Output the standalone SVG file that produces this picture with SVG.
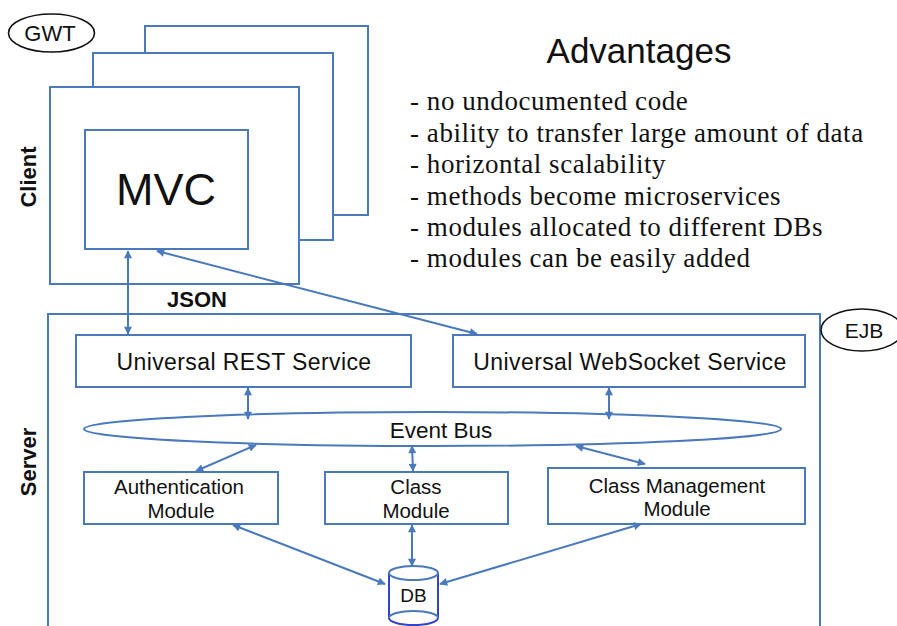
<svg xmlns="http://www.w3.org/2000/svg" width="897" height="626" viewBox="0 0 897 626">
<style>
.box{fill:#fff;stroke:#4a79bd;stroke-width:2}
.line{fill:none;stroke:#4a79bd;stroke-width:2}
.sans{font-family:"Liberation Sans",Arial,sans-serif;fill:#111}
.serif{font-family:"Liberation Serif","Times New Roman",serif;fill:#111;font-size:27px;letter-spacing:0.55px}
.bold{font-weight:bold}
.oval{fill:#fff;stroke:#111;stroke-width:1.6}
.sp{letter-spacing:0.4px}
</style>
<defs>
<marker id="ah" viewBox="0 0 10 10" refX="9" refY="5" markerWidth="9" markerHeight="8" markerUnits="userSpaceOnUse" orient="auto-start-reverse">
<path d="M0,0 L10,5 L0,10 Z" fill="#4a79bd"/>
</marker>
</defs>
<rect width="897" height="626" fill="#fff"/>

<g id="gwt">
<ellipse class="oval" cx="51.5" cy="33" rx="43" ry="19"/>
<text class="sans" x="50" y="40.5" font-size="22" text-anchor="middle">GWT</text>
</g>

<g id="client">
<rect class="box" x="145" y="26" width="223" height="189"/>
<rect class="box" x="93" y="53" width="240" height="187"/>
<rect class="box" x="50" y="87" width="249" height="197"/>
<text class="sans bold" font-size="22" text-anchor="middle" transform="translate(36,177) rotate(-90)">Client</text>
</g>

<g id="mvc">
<rect class="box" x="85" y="130" width="163" height="119"/>
<text class="sans" x="166" y="205" font-size="45" text-anchor="middle">MVC</text>
</g>

<g id="json">
<text class="sans bold" x="197" y="307" font-size="22" text-anchor="middle">JSON</text>
</g>

<g id="advantages">
<text class="sans" x="639" y="63" font-size="35" text-anchor="middle">Advantages</text>
<text class="serif" x="410" y="110">- no undocumented code</text>
<text class="serif" x="410" y="141.5">- ability to transfer large amount of data</text>
<text class="serif" x="410" y="173">- horizontal scalability</text>
<text class="serif" x="410" y="204.5">- methods become microservices</text>
<text class="serif" x="410" y="236">- modules allocated to different DBs</text>
<text class="serif" x="410" y="267">- modules can be easily added</text>
</g>

<g id="server">
<path class="line" d="M48,630 V314 H820 V630"/>
<text class="sans bold" font-size="22" text-anchor="middle" transform="translate(36,462) rotate(-90)">Server</text>
</g>

<g id="ejb">
<ellipse class="oval" cx="862" cy="330" rx="41" ry="21"/>
<text class="sans" x="864" y="338" font-size="21" text-anchor="middle">EJB</text>
</g>

<g id="rest">
<rect class="box" x="76" y="335" width="335" height="52"/>
<text class="sans sp" x="244" y="370" font-size="23" text-anchor="middle">Universal REST Service</text>
</g>

<g id="websocket">
<rect class="box" x="453" y="335" width="352" height="52"/>
<text class="sans sp" x="630" y="370" font-size="23" text-anchor="middle">Universal WebSocket Service</text>
</g>

<g id="eventbus">
<ellipse class="box" cx="432.5" cy="429" rx="348.5" ry="17"/>
<text class="sans" x="441" y="438" font-size="22.5" text-anchor="middle">Event Bus</text>
</g>

<g id="auth">
<rect class="box" x="84" y="472" width="194" height="52"/>
<text class="sans" x="179" y="494" font-size="20.5" text-anchor="middle">Authentication</text>
<text class="sans" x="181" y="518" font-size="20.5" text-anchor="middle">Module</text>
</g>

<g id="class">
<rect class="box" x="325" y="472" width="183" height="52"/>
<text class="sans" x="416" y="494" font-size="20.5" text-anchor="middle">Class</text>
<text class="sans" x="416" y="518" font-size="20.5" text-anchor="middle">Module</text>
</g>

<g id="classmgmt">
<rect class="box" x="548" y="468" width="257" height="56"/>
<text class="sans" x="677" y="493" font-size="20.5" text-anchor="middle">Class Management</text>
<text class="sans" x="677" y="516" font-size="20.5" text-anchor="middle">Module</text>
</g>

<g id="db">
<path d="M389,573 V618 A24.5,7 0 0 0 438,618 V573" fill="#fff" stroke="#3344cc" stroke-width="2"/>
<ellipse cx="413.5" cy="573" rx="24.5" ry="7" fill="#fff" stroke="#4a79bd" stroke-width="2"/>
<path d="M389,618 A24.5,7 0 0 1 438,618" fill="none" stroke="#4a79bd" stroke-width="2"/>
<text class="sans" x="413.5" y="602" font-size="19" text-anchor="middle">DB</text>
</g>

<g id="connectors">
<line class="line" x1="128" y1="251" x2="128" y2="334" marker-start="url(#ah)" marker-end="url(#ah)"/>
<line class="line" x1="157" y1="251" x2="477" y2="334" marker-start="url(#ah)" marker-end="url(#ah)"/>
<line class="line" x1="248" y1="388" x2="248" y2="419" marker-start="url(#ah)" marker-end="url(#ah)"/>
<line class="line" x1="609" y1="388" x2="609" y2="419" marker-start="url(#ah)" marker-end="url(#ah)"/>
<line class="line" x1="196" y1="471" x2="256" y2="445" marker-start="url(#ah)" marker-end="url(#ah)"/>
<line class="line" x1="412" y1="446" x2="413" y2="471" marker-start="url(#ah)" marker-end="url(#ah)"/>
<line class="line" x1="576" y1="446" x2="645" y2="464" marker-start="url(#ah)" marker-end="url(#ah)"/>
<line class="line" x1="233" y1="525" x2="385" y2="584" marker-start="url(#ah)" marker-end="url(#ah)"/>
<line class="line" x1="412" y1="525" x2="412" y2="566" marker-start="url(#ah)" marker-end="url(#ah)"/>
<line class="line" x1="641" y1="524" x2="440" y2="584" marker-start="url(#ah)" marker-end="url(#ah)"/>
</g>
</svg>
